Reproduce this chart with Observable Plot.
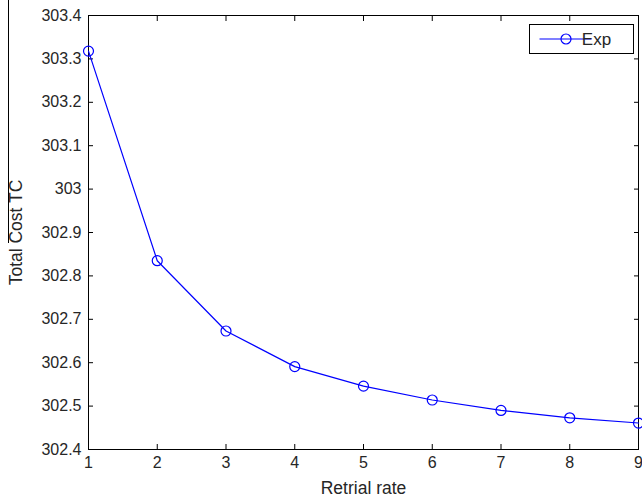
<!DOCTYPE html>
<html>
<head>
<meta charset="utf-8">
<script src="https://cdn.jsdelivr.net/npm/d3@7"></script>
<script src="https://cdn.jsdelivr.net/npm/@observablehq/plot@0.6"></script>
<style>
  html, body { margin: 0; padding: 0; background: #fff; }
  #chart svg { display: block; }
</style>
</head>
<body>
<div id="chart"></div>
<script>
// Total cost TC against the retrial rate
const retrialRate = [1, 2, 3, 4, 5, 6, 7, 8, 9];
const totalCost = [303.318, 302.835, 302.673, 302.591, 302.546, 302.514, 302.490, 302.473, 302.461];
const xTicks = [1, 2, 3, 4, 5, 6, 7, 8, 9];
const yTicks = [302.4, 302.5, 302.6, 302.7, 302.8, 302.9, 303.0, 303.1, 303.2, 303.3, 303.4];
const seriesName = "Exp";
const xLabel = "Retrial rate";
const yLabel = "Total Cost TC";

const rows = retrialRate.map((x, i) => ({x, y: totalCost[i]}));
const lineColor = "#0000ff";
const textColor = "#262626";
const fmtY = d => String(+d.toFixed(1));
const blank = () => "";

const chart = Plot.plot({
  width: 642,
  height: 500,
  marginLeft: 88,
  marginRight: 4,
  marginTop: 15,
  marginBottom: 51,
  style: {fontFamily: "'Liberation Sans', Arial, sans-serif", fontSize: "16px", background: "#fff", overflow: "visible"},
  x: {domain: [1, 9]},
  y: {domain: [302.4, 303.4]},
  marks: [
    Plot.frame({stroke: "#000"}),
    // inward ticks on all four sides, labels on bottom and left only
    Plot.axisX(xTicks, {anchor: "bottom", tickSize: -5, tickPadding: 12, stroke: "#000", fill: textColor, label: null, tickFormat: d => String(d)}),
    Plot.axisX(xTicks, {anchor: "top", tickSize: -5, stroke: "#000", label: null, tickFormat: blank}),
    Plot.axisY(yTicks, {anchor: "left", tickSize: -5, tickPadding: 12, stroke: "#000", fill: textColor, label: null, tickFormat: fmtY}),
    Plot.axisY(yTicks, {anchor: "right", tickSize: -5, stroke: "#000", label: null, tickFormat: blank}),
    Plot.line(rows, {x: "x", y: "y", stroke: lineColor, strokeWidth: 1.2}),
    Plot.dot(rows, {x: "x", y: "y", r: 5, stroke: lineColor, strokeWidth: 1.2, fill: "none"}),
    Plot.text([xLabel], {frameAnchor: "bottom", dy: 39, fill: textColor, fontSize: 17.5, textAnchor: "middle", lineAnchor: "middle"}),
    Plot.text([yLabel], {frameAnchor: "left", dx: -72, rotate: -90, fill: textColor, fontSize: 17.5, textAnchor: "middle", lineAnchor: "middle"})
  ]
});

// legend box in the upper right corner
const svg = d3.select(chart);
const lg = svg.append("g").attr("transform", "translate(529.5,24.5)");
lg.append("rect").attr("width", 104).attr("height", 29).attr("fill", "#fff").attr("stroke", "#000");
lg.append("line").attr("x1", 10).attr("x2", 62).attr("y1", 14.5).attr("y2", 14.5).attr("stroke", lineColor).attr("stroke-width", 1.2);
lg.append("circle").attr("cx", 36.5).attr("cy", 14.5).attr("r", 5).attr("fill", "none").attr("stroke", lineColor).attr("stroke-width", 1.2);
lg.append("text").attr("x", 67).attr("y", 15).attr("dy", "0.35em").attr("fill", textColor).attr("font-size", 17).text(seriesName);

// thin rule at the far left edge
svg.append("line").attr("x1", 8.5).attr("x2", 8.5).attr("y1", 0).attr("y2", 243).attr("stroke", "#000");

document.getElementById("chart").appendChild(chart);
</script>
</body>
</html>
